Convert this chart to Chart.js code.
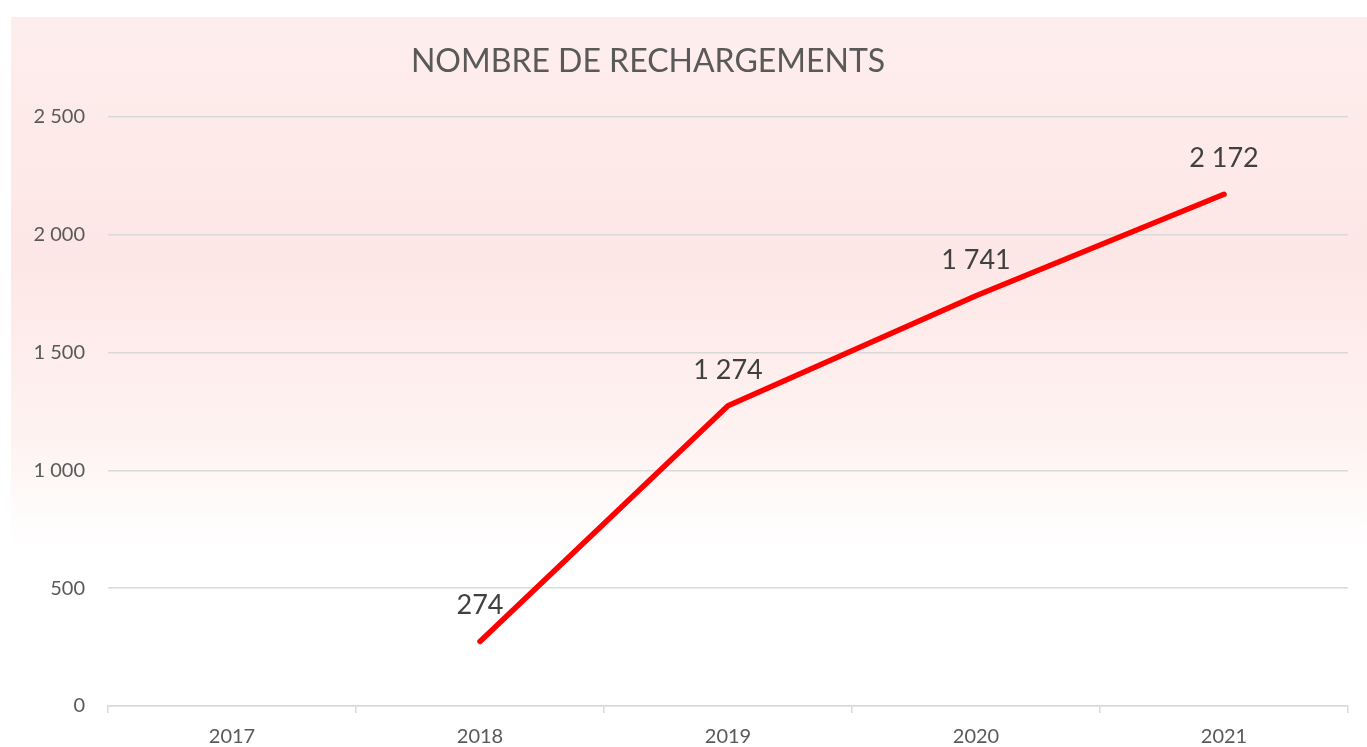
<!DOCTYPE html>
<html>
<head>
<meta charset="utf-8">
<script src="https://cdn.jsdelivr.net/npm/chart.js@4/dist/chart.umd.min.js"></script>
<style>
  html, body { margin: 0; padding: 0; background: #fff; }
  #wrap { width: 1367px; height: 747px; }
</style>
</head>
<body>
<div id="wrap"><canvas id="chart"></canvas></div>
<script>
const years = ['2017', '2018', '2019', '2020', '2021'];
const recharges = [null, 274, 1274, 1741, 2172];
const yTicks = [0, 500, 1000, 1500, 2000, 2500];
const chartTitle = 'NOMBRE DE RECHARGEMENTS';

const FONT = 'Lato, "Open Sans", sans-serif';

// thousands with a plain space, like "2 500"
const fmt = (v) => String(v).replace(/\B(?=(\d{3})+(?!\d))/g, ' ');

// soft pink panel behind the chart, fading out near the bottom, plus the title
const panelBg = {
  id: 'panelBg',
  beforeDraw(chart) {
    const ctx = chart.ctx;
    const top = 17, bottom = 548;
    const g = ctx.createLinearGradient(0, top, 0, bottom);
    g.addColorStop(0, '#fdeeed');
    g.addColorStop(0.45, '#fde7e6');
    g.addColorStop(0.8, '#fef3f2');
    g.addColorStop(1, '#ffffff');
    ctx.save();
    ctx.fillStyle = g;
    ctx.fillRect(11, top, chart.width - 11, bottom - top);

    ctx.font = '32px ' + FONT;
    ctx.fillStyle = '#595959';
    ctx.textAlign = 'center';
    ctx.textBaseline = 'middle';
    ctx.fillText(chartTitle, 648, 62);
    ctx.restore();
  }
};

// value labels above each point
const pointLabels = {
  id: 'pointLabels',
  afterDatasetsDraw(chart) {
    const ctx = chart.ctx;
    const meta = chart.getDatasetMeta(0);
    ctx.save();
    ctx.font = '27px ' + FONT;
    ctx.fillStyle = '#404040';
    ctx.textAlign = 'center';
    ctx.textBaseline = 'middle';
    meta.data.forEach((pt, i) => {
      const v = recharges[i];
      if (v == null) return;
      ctx.fillText(fmt(v), pt.x, pt.y - 36);
    });
    ctx.restore();
  }
};

new Chart(document.getElementById('chart'), {
  type: 'line',
  data: {
    labels: years,
    datasets: [{
      data: recharges,
      borderColor: '#ff0000',
      borderWidth: 5.5,
      borderCapStyle: 'round',
      borderJoinStyle: 'round',
      pointRadius: 0,
      tension: 0,
      spanGaps: false
    }]
  },
  options: {
    responsive: true,
    maintainAspectRatio: false,
    animation: false,
    layout: { padding: { left: 0, right: 19, top: 117, bottom: 0 } },
    plugins: {
      legend: { display: false },
      tooltip: { enabled: false },
      title: { display: false }
    },
    scales: {
      x: {
        offset: true,
        grid: {
          offset: true,
          drawOnChartArea: false,
          drawTicks: true,
          tickLength: 7,
          color: '#d9d9d9',
          lineWidth: 1.5
        },
        border: { color: '#d9d9d9', width: 1.5 },
        ticks: {
          color: '#595959',
          font: { family: FONT, size: 20 },
          padding: 12
        },
        afterFit(scale) { scale.height = 41; }
      },
      y: {
        min: 0,
        max: 2500,
        afterBuildTicks(scale) { scale.ticks = yTicks.map(v => ({ value: v })); },
        grid: { color: '#d9d9d9', lineWidth: 1.5, drawTicks: false },
        border: { display: false },
        ticks: {
          color: '#595959',
          font: { family: FONT, size: 20 },
          padding: 23,
          callback: (v) => fmt(v)
        },
        afterFit(scale) { scale.width = 108; }
      }
    }
  },
  plugins: [panelBg, pointLabels]
});
</script>
</body>
</html>
